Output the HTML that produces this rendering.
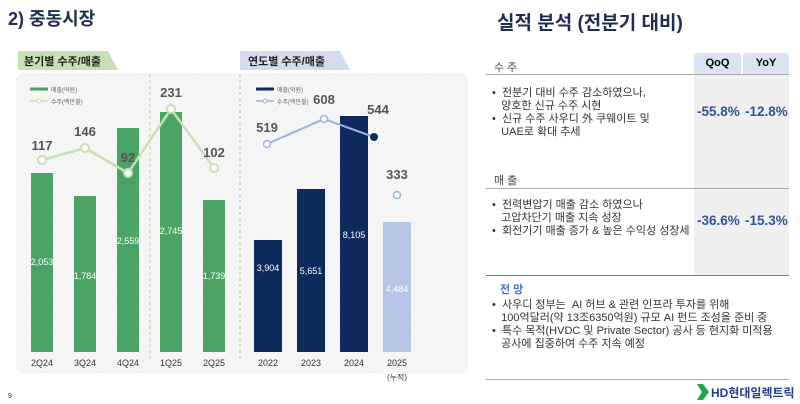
<!DOCTYPE html><html><head><meta charset="utf-8"><style>
body{margin:0;width:800px;height:404px;background:#fff;font-family:"Liberation Sans","Noto Sans CJK KR",sans-serif;position:relative;overflow:hidden}
.a{position:absolute;white-space:nowrap}
.b{font-size:11px;color:#333;line-height:13px}
.v{font-size:13.5px;font-weight:bold;color:#2f5597}
</style></head><body>
<div class="a" style="left:8px;top:5px;font-size:18px;font-weight:bold;color:#1f2d52">2) 중동시장</div>
<div class="a" style="left:497px;top:8px;font-size:19px;font-weight:bold;color:#1f2d52">실적 분석 (전분기 대비)</div>
<svg class="a" style="left:0;top:0" width="480" height="404">
<defs><pattern id="h" width="4" height="4" patternUnits="userSpaceOnUse" patternTransform="rotate(45)"><rect width="4" height="4" fill="#f6f6f6"/><line x1="0" y1="0" x2="0" y2="4" stroke="#ececec" stroke-width="1"/></pattern></defs>
<rect x="16" y="73" width="452" height="300" rx="8" fill="url(#h)"/>
<polygon points="18,51 108,51 118,70 18,70" fill="#c5e0b4"/>
<text x="24" y="65" font-size="11" font-weight="bold" fill="#222">분기별 수주/매출</text>
<polygon points="240,51 340,51 350,70 240,70" fill="#d6dcf0"/>
<text x="248" y="65" font-size="11" font-weight="bold" fill="#222">연도별 수주/매출</text>
<line x1="150" y1="74" x2="150" y2="360" stroke="#a9d18e" stroke-dasharray="3,3"/>
<line x1="240" y1="74" x2="240" y2="360" stroke="#bbb" stroke-dasharray="3,3"/>
<line x1="30" y1="89" x2="48" y2="89" stroke="#4aa564" stroke-width="3"/><text x="51" y="92" font-size="6" fill="#666">매출(억원)</text>
<line x1="30" y1="101" x2="48" y2="101" stroke="#c5e0b4" stroke-width="1.5"/><circle cx="39" cy="101" r="2" fill="#fff" stroke="#c5e0b4"/><text x="51" y="104" font-size="6" fill="#666">수주(백만불)</text>
<line x1="256" y1="89" x2="274" y2="89" stroke="#0d2a5c" stroke-width="3"/><text x="277" y="92" font-size="6" fill="#666">매출(억원)</text>
<line x1="256" y1="101" x2="274" y2="101" stroke="#9bb3e0" stroke-width="1.5"/><circle cx="265" cy="101" r="2" fill="#fff" stroke="#9bb3e0"/><text x="277" y="104" font-size="6" fill="#666">수주(백만불)</text>
<g fill="#4aa564"><rect x="31" y="173" width="22" height="179"/><rect x="74" y="196" width="22" height="156"/><rect x="117" y="128" width="22" height="224"/><rect x="160" y="112" width="22" height="240"/><rect x="203" y="200" width="22" height="152"/></g>
<g fill="#0d2a5c"><rect x="254" y="240" width="28" height="112"/><rect x="297" y="189" width="28" height="163"/><rect x="340" y="116" width="28" height="236"/></g>
<rect x="383" y="222" width="28" height="130" fill="#b4c7e7"/>
<g font-size="9" fill="#fff" text-anchor="middle"><text x="42" y="265">2,053</text><text x="85" y="279">1,784</text><text x="128" y="244">2,559</text><text x="171" y="234">2,745</text><text x="214" y="279">1,739</text><text x="268" y="271">3,904</text><text x="311" y="274">5,651</text><text x="354" y="238">8,105</text><text x="397" y="292">4,484</text></g>
<polyline points="42,160 85,148 128,173 171,109 214,168" fill="none" stroke="#c5e0b4" stroke-width="2.5"/>
<g fill="#fff" stroke="#c5e0b4" stroke-width="2"><circle cx="42" cy="160" r="4"/><circle cx="85" cy="148" r="4"/><circle cx="128" cy="173" r="4"/><circle cx="171" cy="109" r="4"/><circle cx="214" cy="168" r="4"/></g>
<polyline points="267,144 324,119 374,137" fill="none" stroke="#9bb3e0" stroke-width="2"/>
<g fill="#fff" stroke="#9bb3e0" stroke-width="1.5"><circle cx="267" cy="144" r="3.5"/><circle cx="324" cy="119" r="3.5"/><circle cx="397" cy="195" r="3.5"/></g>
<circle cx="374" cy="137" r="4" fill="#0d2a5c"/>
<g font-size="13" font-weight="bold" fill="#555" text-anchor="middle"><text x="42" y="150">117</text><text x="85" y="136">146</text><text x="128" y="162">92</text><text x="171" y="97">231</text><text x="214" y="157">102</text><text x="267" y="132">519</text><text x="324" y="104">608</text><text x="378" y="114">544</text><text x="397" y="179">333</text></g>
<g font-size="9" fill="#333" text-anchor="middle"><text x="42" y="366">2Q24</text><text x="85" y="366">3Q24</text><text x="128" y="366">4Q24</text><text x="171" y="366">1Q25</text><text x="214" y="366">2Q25</text><text x="268" y="366">2022</text><text x="311" y="366">2023</text><text x="354" y="366">2024</text><text x="397" y="366">2025</text><text x="397" y="380" font-size="8">(누적)</text></g>
<text x="8" y="398" font-size="7" fill="#333">9</text>
</svg>
<div class="a" style="left:694px;top:74px;width:95px;height:201px;background:#efefef"></div>
<div class="a" style="left:694px;top:53px;width:47px;height:21px;background:#dae3f3;border-radius:3px 3px 0 0;font-size:11px;font-weight:bold;text-align:center;line-height:21px">QoQ</div>
<div class="a" style="left:743px;top:53px;width:46px;height:21px;background:#dae3f3;border-radius:3px 3px 0 0;font-size:11px;font-weight:bold;text-align:center;line-height:21px">YoY</div>
<div class="a" style="left:494px;top:59px;font-size:11px;color:#444">수 주</div>
<div class="a" style="left:486px;top:74px;width:303px;height:1px;background:#aaa"></div>
<div class="a b" style="left:492px;top:87px">• &nbsp;전분기 대비 수주 감소하였으나,<br>&nbsp;&nbsp;&nbsp;양호한 신규 수주 시현<br>• &nbsp;신규 수주 사우디 外 쿠웨이트 및<br>&nbsp;&nbsp;&nbsp;UAE로 확대 추세</div>
<div class="a v" style="left:697px;top:104px">-55.8%</div><div class="a v" style="left:745px;top:104px">-12.8%</div>
<div class="a" style="left:494px;top:172px;font-size:11px;color:#444">매 출</div>
<div class="a" style="left:486px;top:188px;width:303px;height:1px;background:#aaa"></div>
<div class="a b" style="left:492px;top:199px">• &nbsp;전력변압기 매출 감소 하였으나<br>&nbsp;&nbsp;&nbsp;고압차단기 매출 지속 성장<br>• &nbsp;회전기기 매출 증가 &amp; 높은 수익성 성장세</div>
<div class="a v" style="left:697px;top:213px">-36.6%</div><div class="a v" style="left:745px;top:213px">-15.3%</div>
<div class="a" style="left:486px;top:275px;width:303px;height:1px;background:#5b7fc7"></div>
<div class="a" style="left:500px;top:281px;font-size:11px;font-weight:bold;color:#4472c4">전 망</div>
<div class="a b" style="left:492px;top:299px">• &nbsp;사우디 정부는 &nbsp;AI 허브 &amp; 관련 인프라 투자를 위해<br>&nbsp;&nbsp;&nbsp;100억달러(약 13조6350억원) 규모 AI 펀드 조성을 준비 중<br>• &nbsp;특수 목적(HVDC 및 Private Sector) 공사 등 현지화 미적용<br>&nbsp;&nbsp;&nbsp;공사에 집중하여 수주 지속 예정</div>
<div class="a" style="left:486px;top:379px;width:303px;height:1px;background:#aaa"></div>
<svg class="a" style="left:697px;top:384px" width="12" height="16"><polygon points="0,0 6,0 12,8 6,16 0,16 5,8" fill="#1faa4a"/></svg>
<div class="a" style="left:711px;top:384px;font-size:12px;font-weight:bold;color:#1f3a8a">HD현대일렉트릭</div>
</body></html>
